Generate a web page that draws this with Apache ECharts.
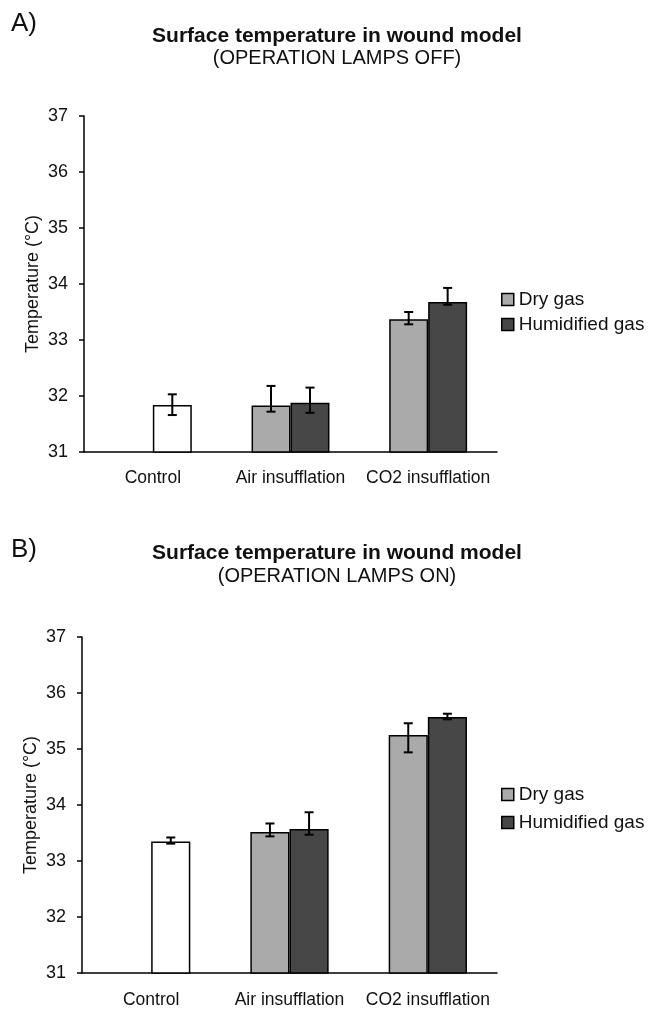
<!DOCTYPE html>
<html>
<head>
<meta charset="utf-8">
<script src="https://cdn.jsdelivr.net/npm/echarts@6/dist/echarts.min.js"></script>
<style>
html,body{margin:0;padding:0;background:#fff;}
#c{width:650px;height:1010px;}
</style>
</head>
<body>
<div id="c"></div>
<script>
// ---- data ----
const categories = ['Control', 'Air insufflation', 'CO2 insufflation'];
const yTicks = [31, 32, 33, 34, 35, 36, 37];
const seriesNames = ['Dry gas', 'Humidified gas'];

// Panel A: operation lamps off
const controlOff = 31.84;
const controlOffErr = [0.19, 0.18];       // [up, down]
const dryOff = [31.83, 33.37];            // Air, CO2
const dryOffErrUp = [0.35, 0.13];
const dryOffErrDown = [0.11, 0.09];
const humidOff = [31.88, 33.68];
const humidOffErrUp = [0.27, 0.25];
const humidOffErrDown = [0.18, 0.05];

// Panel B: operation lamps on
const controlOn = 33.35;
const controlOnErr = [0.07, 0.04];
const dryOn = [33.52, 35.25];
const dryOnErrUp = [0.15, 0.21];
const dryOnErrDown = [0.08, 0.31];
const humidOn = [33.57, 35.57];
const humidOnErrUp = [0.30, 0.06];
const humidOnErrDown = [0.10, 0.04];

// ---- chart ----
const FONT = 'Liberation Sans, Arial, sans-serif';
const DRY = '#aaaaaa', HUM = '#474747';
const BW = 0.283;

function buildPanel(idx, control, cErr, dry, dUp, dDown, hum, hUp, hDown) {
  const dryData = ['-'].concat(dry);
  const humData = [{value: control, itemStyle: {color: '#ffffff'}}].concat(hum);
  const errData = [[0, control, cErr[0], cErr[1], 1]];
  dry.forEach((v, i) => errData.push([i + 1, v, dUp[i], dDown[i], 0]));
  hum.forEach((v, i) => errData.push([i + 1, v, hUp[i], hDown[i], 1]));
  const common = {
    type: 'bar', xAxisIndex: idx, yAxisIndex: idx, barWidth: (BW * 100) + '%', barGap: '0%',
    animation: false
  };
  return [
    Object.assign({}, common, {name: seriesNames[0], data: dryData,
      itemStyle: {color: DRY, borderColor: '#000', borderWidth: 1.5}}),
    Object.assign({}, common, {name: seriesNames[1], data: humData,
      itemStyle: {color: HUM, borderColor: '#000', borderWidth: 1.5}}),
    {
      type: 'custom', xAxisIndex: idx, yAxisIndex: idx, data: errData, animation: false,
      encode: {x: 0, y: 1}, z: 5,
      renderItem: function (params, api) {
        const cat = api.value(0), v = api.value(1), up = api.value(2), dn = api.value(3), slot = api.value(4);
        const band = api.size([1, 0])[0];
        const off = (slot === 0 ? -1 : 1) * band * BW / 2;
        const top = api.coord([cat, v + up]);
        const bot = api.coord([cat, v - dn]);
        const x = top[0] + off;
        const cap = 4.5;
        const st = {stroke: '#000', lineWidth: 2};
        return {type: 'group', children: [
          {type: 'line', shape: {x1: x, y1: top[1], x2: x, y2: bot[1]}, style: st},
          {type: 'line', shape: {x1: x - cap, y1: top[1], x2: x + cap, y2: top[1]}, style: st},
          {type: 'line', shape: {x1: x - cap, y1: bot[1], x2: x + cap, y2: bot[1]}, style: st}
        ]};
      }
    }
  ];
}

const axisLine = {lineStyle: {color: '#000', width: 1.5}};
function xAx(idx, margin) {
  return {type: 'category', gridIndex: idx, data: categories,
    axisLine: axisLine, axisTick: {length: 5, lineStyle: {color: '#000', width: 1.5}},
    axisLabel: {color: '#111', fontFamily: FONT, fontSize: 17.5, margin: margin, interval: 0}};
}
function yAx(idx) {
  return {type: 'value', gridIndex: idx, min: yTicks[0], max: yTicks[yTicks.length - 1], interval: 1,
    name: 'Temperature (°C)', nameLocation: 'middle', nameGap: 42, nameRotate: 90, nameMoveOverlap: false,
    nameTextStyle: {color: '#111', fontFamily: FONT, fontSize: 18},
    axisLine: {show: true, lineStyle: {color: '#000', width: 1.5}},
    axisTick: {show: true, length: 5, lineStyle: {color: '#000', width: 1.5}},
    splitLine: {show: false},
    axisLabel: {color: '#111', fontFamily: FONT, fontSize: 18, margin: 16}};
}

const titleStyle = {fontFamily: FONT, fontSize: 21, fontWeight: 'bold', color: '#111'};
const subStyle = {fontFamily: FONT, fontSize: 20, color: '#111'};
const panelLabel = {fontFamily: FONT, fontSize: 26, fontWeight: 'normal', color: '#111'};
const legendText = {fontFamily: FONT, fontSize: 19, color: '#111'};

const chart = echarts.init(document.getElementById('c'), null, {renderer: 'canvas'});
chart.setOption({
  backgroundColor: '#fff',
  animation: false,
  title: [
    {text: 'A)', left: 6, top: 6, textStyle: panelLabel},
    {text: 'Surface temperature in wound model', subtext: '(OPERATION LAMPS OFF)', left: 332, top: 21, itemGap: 1,
      textAlign: 'center', textStyle: titleStyle, subtextStyle: subStyle},
    {text: 'B)', left: 6, top: 532, textStyle: panelLabel},
    {text: 'Surface temperature in wound model', subtext: '(OPERATION LAMPS ON)', left: 332, top: 538, itemGap: 2,
      textAlign: 'center', textStyle: titleStyle, subtextStyle: subStyle}
  ],
  legend: [
    {data: seriesNames, orient: 'vertical', left: 496, top: 285, itemWidth: 12, itemHeight: 12, itemGap: 6,
      icon: 'rect', textStyle: legendText,
      itemStyle: {borderColor: '#000', borderWidth: 1.5}, selectedMode: false},
    {data: seriesNames, orient: 'vertical', left: 496, top: 780, itemWidth: 12, itemHeight: 12, itemGap: 9,
      icon: 'rect', textStyle: legendText,
      itemStyle: {borderColor: '#000', borderWidth: 1.5}, selectedMode: false}
  ],
  grid: [
    {left: 84, right: 153, top: 116, height: 336},
    {left: 82, right: 153, top: 637, height: 336}
  ],
  xAxis: [xAx(0, 17), xAx(1, 18)],
  yAxis: [yAx(0), yAx(1)],
  series: [].concat(
    buildPanel(0, controlOff, controlOffErr, dryOff, dryOffErrUp, dryOffErrDown, humidOff, humidOffErrUp, humidOffErrDown),
    buildPanel(1, controlOn, controlOnErr, dryOn, dryOnErrUp, dryOnErrDown, humidOn, humidOnErrUp, humidOnErrDown)
  )
});
</script>
</body>
</html>
